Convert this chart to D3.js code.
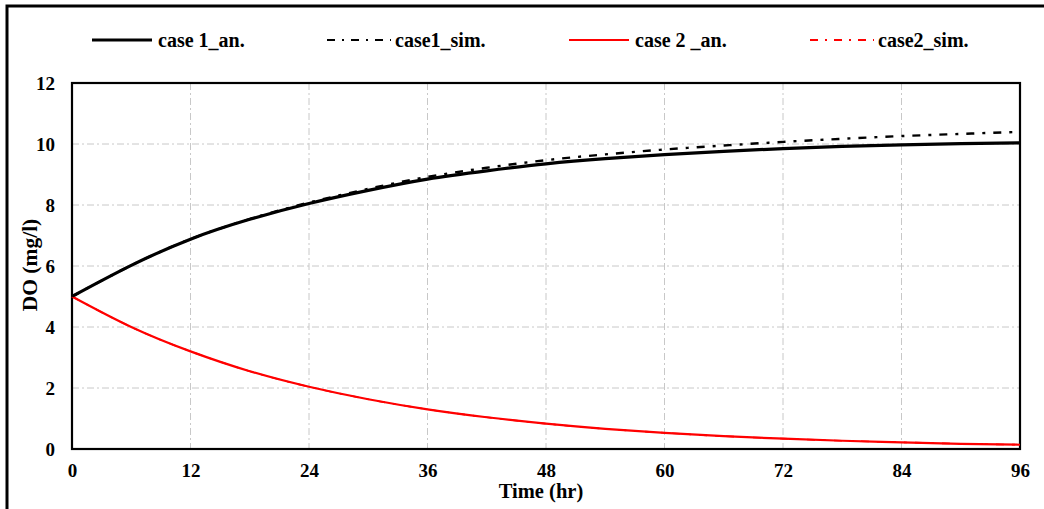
<!DOCTYPE html>
<html>
<head>
<meta charset="utf-8">
<script src="https://cdn.jsdelivr.net/npm/d3@7"></script>
<style>
  body { margin: 0; background: #fff; }
  text { font-family: "Liberation Serif", "Times New Roman", serif; font-weight: bold; }
</style>
</head>
<body>
<svg id="chart" width="1044" height="509"></svg>
<script>
// time (hr)
const hours = [0, 6, 12, 18, 24, 30, 36, 42, 48, 54, 60, 66, 72, 78, 84, 90, 96];
// DO (mg/l)
const case1An  = [5.0, 6.02, 6.88, 7.53, 8.05, 8.48, 8.85, 9.12, 9.35, 9.52, 9.65, 9.76, 9.85, 9.92, 9.97, 10.01, 10.04];
const case1Sim = [5.0, 6.02, 6.88, 7.54, 8.08, 8.53, 8.92, 9.22, 9.47, 9.66, 9.82, 9.95, 10.07, 10.17, 10.26, 10.33, 10.40];
const case2An  = [5.0, 4.0, 3.2, 2.55, 2.04, 1.63, 1.3, 1.04, 0.83, 0.66, 0.53, 0.42, 0.34, 0.27, 0.22, 0.17, 0.14];
const case2Sim = [5.0, 4.0, 3.2, 2.55, 2.04, 1.63, 1.3, 1.04, 0.83, 0.66, 0.53, 0.42, 0.34, 0.27, 0.22, 0.17, 0.14];
const xTicks = [0, 12, 24, 36, 48, 60, 72, 84, 96];
const yTicks = [0, 2, 4, 6, 8, 10, 12];

const series = [
  { name: 'case 1_an.',  values: case1An,  color: '#000', width: 3.2, dash: null },
  { name: 'case1_sim.',  values: case1Sim, color: '#000', width: 2.4, dash: '8,8,3,8' },
  { name: 'case 2 _an.', values: case2An,  color: '#ff0000', width: 2.2, dash: null },
  { name: 'case2_sim.',  values: case2Sim, color: '#ff0000', width: 1.6, dash: '8,8,3,8' }
];

const svg = d3.select('#chart');

// outer frame
svg.append('rect')
  .attr('x', 7).attr('y', 6)
  .attr('width', 1060).attr('height', 520)
  .attr('fill', 'none').attr('stroke', '#000').attr('stroke-width', 3);

const plotLeft = 72, plotRight = 1020, plotTop = 83, plotBottom = 449;
const x = d3.scaleLinear().domain([0, 96]).range([plotLeft, plotRight]);
const y = d3.scaleLinear().domain([0, 12]).range([plotBottom, plotTop]);

// grid
svg.append('g').selectAll('line')
  .data(xTicks.slice(1, -1)).enter().append('line')
  .attr('x1', d => x(d)).attr('x2', d => x(d))
  .attr('y1', plotTop).attr('y2', plotBottom)
  .attr('stroke', '#c8c8c8').attr('stroke-width', 1).attr('stroke-dasharray', '7,3,2,3');
svg.append('g').selectAll('line')
  .data(yTicks.slice(1, -1)).enter().append('line')
  .attr('x1', plotLeft).attr('x2', plotRight)
  .attr('y1', d => y(d)).attr('y2', d => y(d))
  .attr('stroke', '#c8c8c8').attr('stroke-width', 1).attr('stroke-dasharray', '7,3,2,3');

// axes
const xAxis = svg.append('g')
  .attr('transform', `translate(0,${plotBottom})`)
  .call(d3.axisBottom(x).tickValues(xTicks).tickSize(0).tickPadding(15));
const yAxis = svg.append('g')
  .attr('transform', `translate(${plotLeft},0)`)
  .call(d3.axisLeft(y).tickValues(yTicks).tickSize(0).tickPadding(17));
[xAxis, yAxis].forEach(a => {
  a.select('.domain').remove();
  a.selectAll('text').attr('font-size', 19).attr('fill', '#000')
    .style('font-family', '"Liberation Serif", serif').style('font-weight', 'bold');
});

// plot frame
svg.append('rect')
  .attr('x', plotLeft).attr('y', plotTop)
  .attr('width', plotRight - plotLeft).attr('height', plotBottom - plotTop)
  .attr('fill', 'none').attr('stroke', '#000').attr('stroke-width', 2.2);

// lines
const line = d3.line()
  .x((d, i) => x(hours[i]))
  .y(d => y(d))
  .curve(d3.curveNatural);

[series[0], series[2], series[3], series[1]].forEach(s => {
  svg.append('path')
    .datum(s.values)
    .attr('d', line)
    .attr('fill', 'none')
    .attr('stroke', s.color)
    .attr('stroke-width', s.width)
    .attr('stroke-dasharray', s.dash);
});

// axis titles
svg.append('text')
  .attr('x', 541).attr('y', 498)
  .attr('text-anchor', 'middle').attr('font-size', 20.5)
  .text('Time (hr)');
svg.append('text')
  .attr('transform', 'translate(37,265) rotate(-90)')
  .attr('text-anchor', 'middle').attr('font-size', 21.5)
  .text('DO (mg/l)');

// legend
const legendX = [92, 327, 569, 810];
const legend = svg.selectAll('.legend')
  .data(series).enter().append('g')
  .attr('class', 'legend')
  .attr('transform', (d, i) => `translate(${legendX[i]},40)`);
legend.append('line')
  .attr('x1', 0).attr('x2', d => d.dash ? 64 : 60)
  .attr('stroke', d => d.color)
  .attr('stroke-width', d => d.width === 3.2 ? 3.2 : 2.2)
  .attr('stroke-dasharray', d => d.dash ? '8,7,2,7' : null);
legend.append('text')
  .attr('x', d => d.dash ? 68 : 66).attr('y', 7)
  .attr('font-size', 20)
  .text(d => d.name);
</script>
</body>
</html>
